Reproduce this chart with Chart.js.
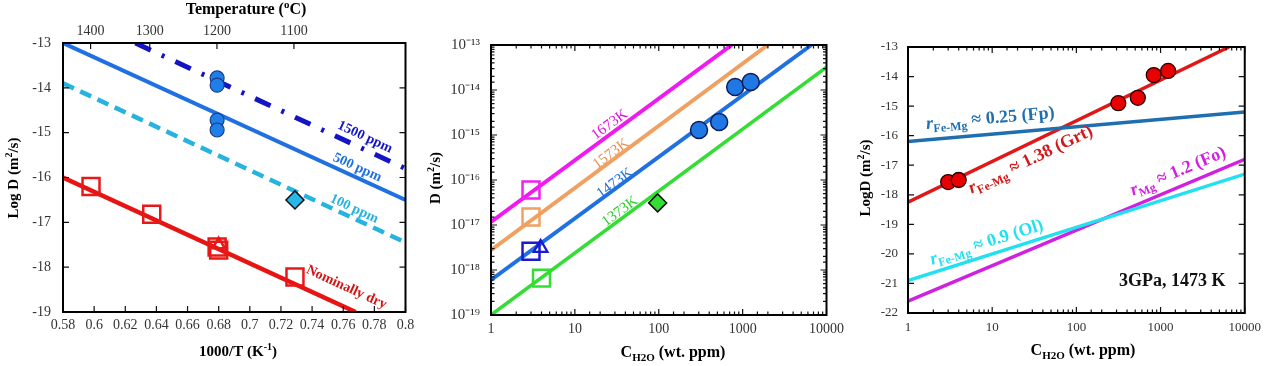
<!DOCTYPE html>
<html>
<head>
<meta charset="utf-8">
<script src="https://cdn.jsdelivr.net/npm/chart.js@4.4.1/dist/chart.umd.min.js"></script>
<style>
    html, body { margin: 0; padding: 0; background: #fff; }
    #wrap { position: relative; width: 1268px; height: 366px; }
    .pane { position: absolute; top: 0; height: 366px; }
</style>
</head>
<body>
<div id="wrap">
    <div class="pane" style="left:0;width:420px"><canvas id="c1" width="420" height="366"></canvas></div>
    <div class="pane" style="left:420px;width:430px"><canvas id="c2" width="430" height="366"></canvas></div>
    <div class="pane" style="left:850px;width:418px"><canvas id="c3" width="418" height="366"></canvas></div>
</div>
<script>
// ---- panel 1: Arrhenius plot ----
var tempTicksC = [1400, 1300, 1200, 1100];
var wetX = [0.679, 0.679, 0.679, 0.679];
var wetY = [-13.78, -13.94, -14.72, -14.94];
var dryX = [0.598, 0.637, 0.679, 0.680, 0.729];
var dryY = [-16.2, -16.82, -17.55, -17.62, -18.22];
var dryTriX = [0.680];
var dryTriY = [-17.5];
var wetDiaX = [0.729];
var wetDiaY = [-16.5];
var l1500X = [0.6265, 0.80], l1500Y = [-13.0, -15.8];
var l500X = [0.58, 0.80], l500Y = [-13.0, -16.5];
var l100X = [0.58, 0.80], l100Y = [-13.9, -17.45];
var lDryX = [0.58, 0.768], lDryY = [-16.0, -19.0];

// ---- panel 2: D vs water content ----
var circC = [302, 525, 815, 1250];
var circD = [1.29e-15, 1.95e-15, 1.17e-14, 1.51e-14];
var sq1673C = [3.0], sq1673D = [6.0e-17];
var sq1573C = [3.0], sq1573D = [1.5e-17];
var sq1473C = [3.0], sq1473D = [2.6e-18];
var tri1473C = [3.9], tri1473D = [3.1e-18];
var sq1373C = [4.0], sq1373D = [6.6e-19];
var dia1373C = [97], dia1373D = [3.1e-17];
var k1673C = [1, 741], k1673D = [1.17e-17, 1e-13];
var k1573C = [1, 1995], k1573D = [2.75e-18, 1e-13];
var k1473C = [1, 6600], k1473D = [6.0e-19, 1e-13];
var k1373C = [1, 10000], k1373D = [1.0e-19, 3.2e-14];

// ---- panel 3: log D of several minerals ----
var grtC = [3.0, 4.0, 315, 537, 830, 1230];
var grtD = [-17.57, -17.5, -14.9, -14.72, -13.95, -13.81];
var fpC = [1, 10000], fpD = [-16.2, -15.2];
var grtLineC = [1, 6500], grtLineD = [-18.25, -13.0];
var foC = [1, 10000], foD = [-21.6, -16.8];
var olC = [1, 10000], olD = [-20.9, -17.3];

var SERIF = '"Liberation Serif", "Times New Roman", serif';

function xy(xs, ys) {
    return xs.map(function (x, i) { return { x: x, y: ys[i] }; });
}
function isPow10(v) {
    var l = Math.log10(v);
    return Math.abs(l - Math.round(l)) < 1e-6;
}
function supNum(n) {
    var map = { '-': '\u207B', '0': '\u2070', '1': '\u00B9', '2': '\u00B2', '3': '\u00B3', '4': '\u2074',
        '5': '\u2075', '6': '\u2076', '7': '\u2077', '8': '\u2078', '9': '\u2079' };
    return String(n).split('').map(function (c) { return map[c]; }).join('');
}

function lineSet(xs, ys, color, width, dash) {
    return {
        type: 'scatter', showLine: true, data: xy(xs, ys), borderColor: color, borderWidth: width,
        borderDash: dash || [], pointRadius: 0, backgroundColor: color, borderCapStyle: 'butt'
    };
}
function pointSet(xs, ys, style, radius, fill, border, bw) {
    return {
        type: 'scatter', data: xy(xs, ys), pointStyle: style, pointRadius: radius,
        pointBackgroundColor: fill, pointBorderColor: border, pointBorderWidth: bw
    };
}

// draws text made of pieces: [text, flags] with flags 'i' italic, '^' sup, '_' sub
function drawRich(ctx, segs, x, y, size, color, bold, angle) {
    var fonts = segs.map(function (s) {
        var f = s[1] || '';
        var sz = (f.indexOf('^') >= 0 || f.indexOf('_') >= 0) ? Math.round(size * 0.68) : size;
        return (f.indexOf('i') >= 0 ? 'italic ' : '') + (bold ? 'bold ' : '') + sz + 'px ' + SERIF;
    });
    var total = 0, widths = [];
    segs.forEach(function (s, i) {
        ctx.font = fonts[i];
        widths[i] = ctx.measureText(s[0]).width;
        total += widths[i];
    });
    ctx.save();
    ctx.translate(x, y);
    ctx.rotate((angle || 0) * Math.PI / 180);
    ctx.fillStyle = color;
    ctx.textBaseline = 'middle';
    ctx.textAlign = 'left';
    var cx = -total / 2;
    segs.forEach(function (s, i) {
        var f = s[1] || '';
        var dy = f.indexOf('^') >= 0 ? -size * 0.33 : (f.indexOf('_') >= 0 ? size * 0.3 : 0);
        ctx.font = fonts[i];
        ctx.fillText(s[0], cx, dy);
        cx += widths[i];
    });
    ctx.restore();
}

var notesPlugin = {
    id: 'notes',
    afterDatasetsDraw: function (chart, args, opts) {
        var ctx = chart.ctx;
        (opts.items || []).forEach(function (n) {
            var px, py, ang = n.angle || 0;
            if (n.px !== undefined) {
                px = n.px; py = n.py;
            } else {
                px = chart.scales.x.getPixelForValue(n.x);
                py = chart.scales.y.getPixelForValue(n.y);
            }
            if (n.along) {
                var xs = n.along[0], ys = n.along[1];
                var x1 = chart.scales.x.getPixelForValue(xs[0]), y1 = chart.scales.y.getPixelForValue(ys[0]);
                var x2 = chart.scales.x.getPixelForValue(xs[1]), y2 = chart.scales.y.getPixelForValue(ys[1]);
                ang = Math.atan2(y2 - y1, x2 - x1) * 180 / Math.PI;
            }
            drawRich(ctx, n.segs, px, py, n.size, n.color || '#000', n.bold !== false, ang);
        });
    }
};

var frameTicks = {
    id: 'frameTicks',
    afterDraw: function (chart, args, opts) {
        var ctx = chart.ctx, a = chart.chartArea;
        ctx.save();
        ctx.strokeStyle = '#111';
        ctx.lineWidth = 1.2;
        Object.keys(chart.scales).forEach(function (id) {
            var s = chart.scales[id];
            var pos = s.options.position;
            s.ticks.forEach(function (t) {
                var major = s.type === 'logarithmic' ? isPow10(t.value) : true;
                var len = major ? 6 : 3.5;
                var p = s.getPixelForValue(t.value);
                ctx.beginPath();
                if (pos === 'bottom') {
                    ctx.moveTo(p, a.bottom); ctx.lineTo(p, a.bottom - len);
                    if (opts.mirrorX) { ctx.moveTo(p, a.top); ctx.lineTo(p, a.top + len); }
                } else if (pos === 'top') {
                    ctx.moveTo(p, a.top); ctx.lineTo(p, a.top + len);
                } else {
                    ctx.moveTo(a.left, p); ctx.lineTo(a.left + len, p);
                    ctx.moveTo(a.right, p); ctx.lineTo(a.right - len, p);
                }
                ctx.stroke();
            });
        });
        ctx.lineWidth = 2;
        ctx.strokeStyle = '#000';
        ctx.strokeRect(a.left, a.top, a.right - a.left, a.bottom - a.top);
        ctx.restore();
    }
};

function fixSize(size) {
    return function (scale) {
        if (scale.isHorizontal()) scale.height = size; else scale.width = size;
    };
}
function tickFont(sz) {
    return { family: SERIF, size: sz };
}
var noGrid = { display: false, drawTicks: false };

Chart.defaults.animation = false;
Chart.defaults.color = '#333';

// ---------------- chart 1 ----------------
new Chart(document.getElementById('c1'), {
    type: 'scatter',
    data: {
        datasets: [
            pointSet(wetX, wetY, 'circle', 7, '#1f7fe8', '#1b3c8c', 1.2),
            pointSet(wetDiaX, wetDiaY, 'rectRot', 9, '#29b6e8', '#111', 1.5),
            pointSet(dryTriX, dryTriY, 'triangle', 7, 'rgba(0,0,0,0)', '#e81818', 2.5),
            pointSet(dryX, dryY, 'rect', 12, 'rgba(0,0,0,0)', '#e81818', 2.5),
            lineSet(l1500X, l1500Y, '#1414c4', 5, [17, 12, 3, 12]),
            lineSet(l500X, l500Y, '#1f70e0', 4),
            lineSet(l100X, l100Y, '#27b3e0', 4.5, [12, 7]),
            lineSet(lDryX, lDryY, '#e81414', 4.5)
        ]
    },
    options: {
        responsive: false,
        layout: { padding: { left: 0, right: 7, top: 0, bottom: 0 } },
        plugins: {
            legend: { display: false }, tooltip: { enabled: false },
            frameTicks: { mirrorX: false },
            notes: {
                items: [
                    { x: 0.774, y: -15.1, segs: [['1500 ppm']], size: 14, color: '#1414c4', along: [l1500X, l1500Y] },
                    { x: 0.769, y: -15.78, segs: [['500 ppm']], size: 14, color: '#1f70e0', along: [l500X, l500Y] },
                    { x: 0.767, y: -16.7, segs: [['100 ppm']], size: 14, color: '#27b3e0', along: [l100X, l100Y] },
                    { x: 0.762, y: -18.45, segs: [['Nominally dry']], size: 14, color: '#d41414', along: [lDryX, lDryY] },
                    { px: 246, py: 10, segs: [['Temperature ('], ['o', '^'], ['C)']], size: 16 },
                    { px: 238, py: 352, segs: [['1000/T (K'], ['-1', '^'], [')']], size: 15 },
                    { px: 14, py: 178, angle: -90, segs: [['Log D (m'], ['2', '^'], ['/s)']], size: 15 }
                ]
            }
        },
        scales: {
            x: {
                type: 'linear', position: 'bottom', min: 0.58, max: 0.8,
                grid: noGrid, border: { display: false },
                afterFit: fixSize(54),
                ticks: { stepSize: 0.02, padding: 5, font: tickFont(14), color: '#333', maxRotation: 0, autoSkip: false,
                    callback: function (v) { return String(Number(v.toFixed(2))); } }
            },
            xTop: {
                type: 'linear', position: 'top', min: 0.58, max: 0.8,
                grid: noGrid, border: { display: false },
                afterFit: fixSize(43),
                afterBuildTicks: function (s) {
                    s.ticks = tempTicksC.map(function (t) { return { value: 1000 / (t + 273) }; });
                },
                ticks: { padding: 3, font: tickFont(14), color: '#333', maxRotation: 0, autoSkip: false,
                    callback: function (v) { return String(Math.round(1000 / v - 273)); } }
            },
            y: {
                type: 'linear', min: -19, max: -13,
                grid: noGrid, border: { display: false },
                afterFit: fixSize(63),
                ticks: { stepSize: 1, padding: 12, font: tickFont(14), color: '#333' }
            }
        }
    },
    plugins: [notesPlugin, frameTicks]
});

// ---------------- chart 2 ----------------
new Chart(document.getElementById('c2'), {
    type: 'scatter',
    data: {
        datasets: [
            pointSet(circC, circD, 'circle', 8.5, '#1f78e6', '#0c1e55', 1.5),
            pointSet(dia1373C, dia1373D, 'rectRot', 9, '#33dd33', '#111', 1.5),
            pointSet(sq1673C, sq1673D, 'rect', 12, 'rgba(0,0,0,0)', '#f020f0', 2.5),
            pointSet(sq1573C, sq1573D, 'rect', 12, 'rgba(0,0,0,0)', '#f0a060', 2.5),
            pointSet(sq1473C, sq1473D, 'rect', 12, 'rgba(0,0,0,0)', '#1a1ad0', 2.5),
            pointSet(tri1473C, tri1473D, 'triangle', 8, 'rgba(0,0,0,0)', '#1a1ad0', 2.2),
            pointSet(sq1373C, sq1373D, 'rect', 12, 'rgba(0,0,0,0)', '#33dd33', 2.5),
            lineSet(k1673C, k1673D, '#f01af0', 4),
            lineSet(k1573C, k1573D, '#f0a060', 4),
            lineSet(k1473C, k1473D, '#1f70e0', 4),
            lineSet(k1373C, k1373D, '#33dd33', 3.5)
        ]
    },
    options: {
        responsive: false,
        layout: { padding: { left: 0, right: 9, top: 45, bottom: 0 } },
        plugins: {
            legend: { display: false }, tooltip: { enabled: false },
            frameTicks: { mirrorX: true },
            notes: {
                items: [
                    { x: 26.0, y: 1.7e-15, segs: [['1673K']], size: 15, bold: false, color: '#e010e0', along: [k1673C, k1673D] },
                    { x: 27.0, y: 3.8e-16, segs: [['1573K']], size: 15, bold: false, color: '#e89050', along: [k1573C, k1573D] },
                    { x: 30.0, y: 8.5e-17, segs: [['1473K']], size: 15, bold: false, color: '#1f70e0', along: [k1473C, k1473D] },
                    { x: 34.5, y: 2.0e-17, segs: [['1373K']], size: 15, bold: false, color: '#2ccc2c', along: [k1373C, k1373D] },
                    { px: 253, py: 353, segs: [['C'], ['H2O', '_'], [' (wt. ppm)']], size: 16 },
                    { px: 16, py: 178, angle: -90, segs: [['D (m'], ['2', '^'], ['/s)']], size: 15 }
                ]
            }
        },
        scales: {
            x: {
                type: 'logarithmic', position: 'bottom', min: 1, max: 10000,
                grid: noGrid, border: { display: false },
                afterFit: fixSize(51),
                ticks: { padding: 6, font: tickFont(14), color: '#333', maxRotation: 0, autoSkip: false,
                    callback: function (v) { return isPow10(v) ? String(Math.round(v)) : ''; } }
            },
            y: {
                type: 'logarithmic', min: 1e-19, max: 1e-13,
                grid: noGrid, border: { display: false },
                afterFit: fixSize(71),
                ticks: { padding: 11, font: tickFont(15), color: '#333', autoSkip: false,
                    callback: function (v) { return isPow10(v) ? '10' + supNum(Math.round(Math.log10(v))) : ''; } }
            }
        }
    },
    plugins: [notesPlugin, frameTicks]
});

// ---------------- chart 3 ----------------
new Chart(document.getElementById('c3'), {
    type: 'scatter',
    data: {
        datasets: [
            pointSet(grtC, grtD, 'circle', 7.5, '#e80000', '#2a0000', 1.3),
            lineSet(fpC, fpD, '#1f6fb0', 3.5),
            lineSet(grtLineC, grtLineD, '#e01818', 3.5),
            lineSet(olC, olD, '#22e0f0', 3.5),
            lineSet(foC, foD, '#d020e0', 3.5)
        ]
    },
    options: {
        responsive: false,
        layout: { padding: { left: 0, right: 17, top: 47, bottom: 0 } },
        plugins: {
            legend: { display: false }, tooltip: { enabled: false },
            frameTicks: { mirrorX: true },
            notes: {
                items: [
                    { x: 9.5, y: -15.43, segs: [['r', 'i'], ['Fe-Mg', '_'], [' \u2248 0.25 (Fp)']], size: 18, color: '#1f6fb0', along: [fpC, fpD] },
                    { x: 28.7, y: -16.82, segs: [['r', 'i'], ['Fe-Mg', '_'], [' \u2248 1.38 (Grt)']], size: 18, color: '#d41818', along: [grtLineC, grtLineD] },
                    { x: 1620, y: -17.22, segs: [['r', 'i'], ['Mg', '_'], [' \u2248 1.2 (Fo)']], size: 18, color: '#d020e0', along: [foC, foD] },
                    { x: 8.6, y: -19.62, segs: [['r', 'i'], ['Fe-Mg', '_'], [' \u2248 0.9 (Ol)']], size: 18, color: '#22e0f0', along: [olC, olD] },
                    { x: 1380, y: -20.94, segs: [['3GPa, 1473 K']], size: 18, color: '#111' },
                    { px: 233, py: 351, segs: [['C'], ['H2O', '_'], [' (wt. ppm)']], size: 16 },
                    { px: 16, py: 178, angle: -90, segs: [['LogD (m'], ['2', '^'], ['/s)']], size: 15 }
                ]
            }
        },
        scales: {
            x: {
                type: 'logarithmic', position: 'bottom', min: 1, max: 10000,
                grid: noGrid, border: { display: false },
                afterFit: fixSize(53),
                ticks: { padding: 7, font: tickFont(13), color: '#333', maxRotation: 0, autoSkip: false,
                    callback: function (v) { return isPow10(v) ? String(Math.round(v)) : ''; } }
            },
            y: {
                type: 'linear', min: -22, max: -13,
                grid: noGrid, border: { display: false },
                afterFit: fixSize(58),
                ticks: { stepSize: 1, padding: 10, font: tickFont(13), color: '#333' }
            }
        }
    },
    plugins: [notesPlugin, frameTicks]
});
</script>
</body>
</html>
